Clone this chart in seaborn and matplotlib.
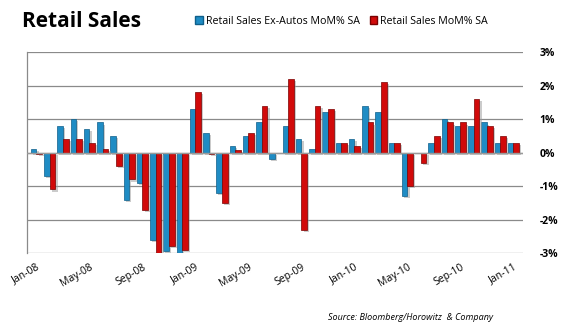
import matplotlib
matplotlib.use("Agg")
import matplotlib.pyplot as plt
import matplotlib.patheffects as pe
import seaborn as sns
import pandas as pd
import numpy as np

months = ["Jan-08","Feb-08","Mar-08","Apr-08","May-08","Jun-08","Jul-08","Aug-08","Sep-08","Oct-08",
          "Nov-08","Dec-08","Jan-09","Feb-09","Mar-09","Apr-09","May-09","Jun-09","Jul-09","Aug-09",
          "Sep-09","Oct-09","Nov-09","Dec-09","Jan-10","Feb-10","Mar-10","Apr-10","May-10","Jun-10",
          "Jul-10","Aug-10","Sep-10","Oct-10","Nov-10","Dec-10","Jan-11"]
ex_autos = [0.1, -0.7, 0.8, 1.0, 0.7, 0.9, 0.5, -1.4, -0.9, -2.6,
            -2.95, -3.1, 1.3, 0.6, -1.2, 0.2, 0.5, 0.9, -0.2, 0.8,
            0.4, 0.1, 1.2, 0.3, 0.4, 1.4, 1.2, 0.3, -1.3, 0.0,
            0.3, 1.0, 0.8, 0.8, 0.9, 0.3, 0.3]
total = [-0.05, -1.1, 0.4, 0.4, 0.3, 0.1, -0.4, -0.8, -1.7, -3.2,
         -2.8, -2.9, 1.8, -0.05, -1.5, 0.08, 0.6, 1.4, 0.0, 2.2,
         -2.3, 1.4, 1.3, 0.3, 0.2, 0.9, 2.1, 0.3, -1.0, -0.3,
         0.5, 0.9, 0.9, 1.6, 0.8, 0.5, 0.3]
series_names = ["Retail Sales Ex-Autos MoM% SA", "Retail Sales MoM% SA"]
tick_labels = ["Jan-08","May-08","Sep-08","Jan-09","May-09","Sep-09","Jan-10","May-10","Sep-10","Jan-11"]
y_ticks = [-3, -2, -1, 0, 1, 2, 3]

df = pd.DataFrame({
    "month": months * 2,
    "value": ex_autos + total,
    "series": [series_names[0]] * len(months) + [series_names[1]] * len(months),
})

sns.set_theme(style="white")
plt.rcParams['font.family'] = ['Open Sans', 'DejaVu Sans']
plt.rcParams['text.color'] = 'black'
plt.rcParams['xtick.color'] = 'black'
plt.rcParams['ytick.color'] = 'black'

fig = plt.figure(figsize=(5.67, 3.30), dpi=100)
ax = fig.add_axes([0.048, 0.233, 0.874, 0.609])

colors = ["#1F8CC4", "#D10A0A"]
edges = ["#0f5f8a", "#7a0000"]
sns.barplot(data=df, x="month", y="value", hue="series", order=months,
            hue_order=series_names, palette=colors, width=0.86, ax=ax,
            saturation=1, legend=False, linewidth=0.5, zorder=3)
shadow = [pe.SimplePatchShadow(offset=(1.5, -1.5), shadow_rgbFace="#999999", alpha=0.5), pe.Normal()]
for i, cont in enumerate(ax.containers):
    for b in cont:
        b.set_edgecolor(edges[i])
        b.set_path_effects(shadow)

ax.set_ylim(-3, 3)
ax.set_xlim(-0.7, len(months) - 0.3)
ax.set_yticks(y_ticks)
ax.set_yticklabels([f"{t}%" for t in y_ticks], fontsize=7.5, fontweight="bold")
ax.yaxis.tick_right()
ax.tick_params(axis="y", length=0, pad=12)
for y in y_ticks:
    ax.axhline(y, color="#8a8a8a", lw=0.9, zorder=1)
ax.axhline(0, color="#9a9a9a", lw=1.0, zorder=4)

idx = [months.index(m) for m in tick_labels]
ax.set_xticks(idx)
ax.set_xticklabels(tick_labels, rotation=30, fontsize=7.5, ha="right", rotation_mode="anchor")
ax.tick_params(axis="x", length=0, pad=6)
ax.set_xlabel("")
ax.set_ylabel("")
for s in ["top", "right", "bottom"]:
    ax.spines[s].set_visible(False)
ax.spines["left"].set_color("#8a8a8a")
ax.spines["left"].set_linewidth(0.9)

fig.text(0.038, 0.935, "Retail Sales", fontsize=15, fontweight="bold", va="center", ha="left",
         color="black")
from matplotlib.patches import Patch
handles = [Patch(facecolor=colors[0], edgecolor=edges[0]), Patch(facecolor=colors[1], edgecolor=edges[1])]
fig.legend(handles, series_names, loc="center left", bbox_to_anchor=(0.335, 0.935), ncol=2,
           frameon=False, fontsize=7.7, handlelength=0.7, handleheight=0.7, handletextpad=0.3,
           columnspacing=0.9, borderpad=0)
fig.text(0.87, 0.038, "Source: Bloomberg/Horowitz  & Company", fontsize=6.5, style="italic",
         ha="right", va="center")

fig.savefig("out.png", dpi=100)
